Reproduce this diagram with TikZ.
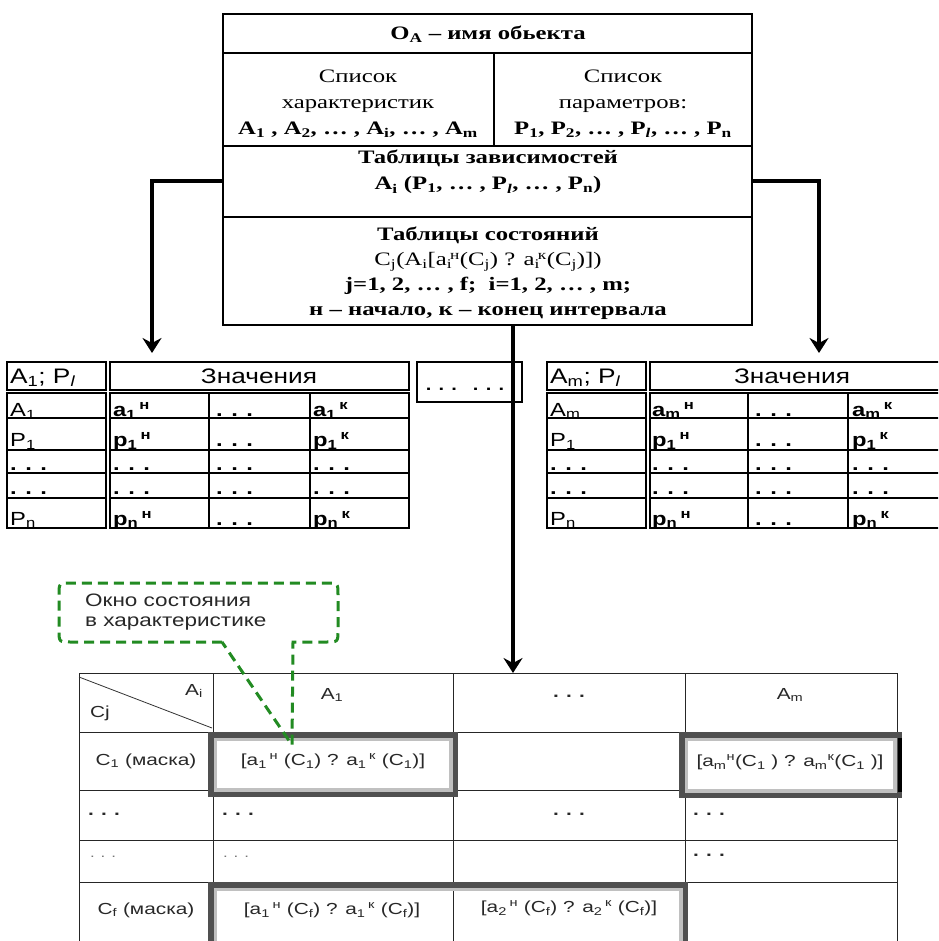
\documentclass[tikz,border=0pt]{standalone}
\usepackage{fontspec}
\setmainfont{Liberation Serif}[FakeStretch=1.3]
\newfontfamily\tabf{Liberation Sans}[FakeStretch=1.25]
\newfontfamily\btf{Liberation Sans}[FakeStretch=1.3]
\usetikzlibrary{arrows.meta}
\definecolor{callg}{RGB}{34,139,34}
\definecolor{frdark}{RGB}{80,80,80}
\definecolor{frlight}{RGB}{192,192,192}
\definecolor{tgray}{RGB}{40,40,40}
\newcommand\sbsp[3]{#1\textsubscript{#2}\kern-0.1em\textsuperscript{#3}}
\newcommand\sbgap[3]{#1\textsubscript{#2}\,\textsuperscript{#3}}
\newcommand\dd{.\hspace{0.45em}.\hspace{0.45em}.}
\newcommand\bdd{\textbf{.\hspace{0.45em}.\hspace{0.45em}.}}
\begin{document}
\begin{tikzpicture}[x=1pt,y=-1pt,
  box/.style={draw, line width=1.2pt, inner sep=0pt, outer sep=0pt, anchor=north west},
  rule/.style={line width=1.2pt},
  tt/.style={font=\fontsize{19}{26}\selectfont, align=center, inner sep=0pt},
  arr/.style={line width=3.2pt, -{Stealth[length=15pt,width=19pt,inset=5pt]}},
  tbh/.style={font=\tabf\fontsize{21}{24}\selectfont, inner sep=0pt, anchor=base west},
  tbc/.style={font=\tabf\fontsize{19}{21}\selectfont, inner sep=0pt, anchor=base west},
  tbo/.style={line width=1.8pt},
  tbi/.style={line width=1.2pt},
  bt/.style={font=\btf\fontsize{16}{18}\selectfont, text=tgray, inner sep=0pt},
  bl/.style={line width=1pt, draw=black!85},
  frmo/.style={line width=5.5pt, draw=frdark},
  frmi/.style={line width=3.5pt, draw=frlight},
  callout/.style={draw=callg, line width=3pt, dash pattern=on 10pt off 6pt},
  ct/.style={font=\tabf\fontsize{18}{20}\selectfont, text=tgray, inner sep=0pt, anchor=base west}
]
\clip (0,0) rectangle (938,941);
\fill[white] (0,0) rectangle (938,941);

% ---------- top object box ----------
\node[box, minimum width=529pt, minimum height=311pt] (obj) at (223,14) {};
\draw[rule] (223,53) -- (752,53);
\draw[rule] (223,146) -- (752,146);
\draw[rule] (223,217) -- (752,217);
\draw[rule] (494,53) -- (494,146);
\node[tt] (title) at (488,34) {\textbf{O\textsubscript{A} – имя обьекта}};
\node[tt] (chars) at (358,104) {Список\\характеристик\\\textbf{A\textsubscript{1} , A\textsubscript{2}, … , A\textsubscript{i}, … , A\textsubscript{m}}};
\node[tt] (params) at (623,104) {Список\\параметров:\\\textbf{P\textsubscript{1}, P\textsubscript{2}, … , P\textsubscript{\textit{l}}, … , P\textsubscript{n}}};
\node[tt] (dep) at (488,172) {\textbf{Таблицы зависимостей}\\\textbf{A\textsubscript{i} (P\textsubscript{1}, … , P\textsubscript{\textit{l}}, … , P\textsubscript{n})}};
\node[tt, font=\fontsize{19}{25}\selectfont] (state) at (488,273) {\textbf{Таблицы состояний}\\C\textsubscript{j}(A\textsubscript{i}[\sbsp{a}{i}{н}(C\textsubscript{j}) ? \sbsp{a}{i}{к}(C\textsubscript{j})])\\\textbf{j=1, 2, … , f;\ \ i=1, 2, … , m;}\\\textbf{н – начало, к – конец интервала}};

% ---------- left table ----------
\node[box, line width=1.8pt, minimum width=99pt, minimum height=28pt] (lh1) at (7,362) {};
\node[box, line width=1.8pt, minimum width=299pt, minimum height=28pt] (lh2) at (110,362) {};
\draw[tbo] (7,393) rectangle (106,528);
\draw[tbo] (110,393) rectangle (409,528);
\foreach \yy in {418,450,473,498} {\draw[tbi] (7,\yy) -- (106,\yy); \draw[tbi] (110,\yy) -- (409,\yy);}
\draw[tbi] (209,393) -- (209,528);
\draw[tbi] (310,393) -- (310,528);
\node[tbh] (lh1t) at (10,383) {A\textsubscript{1}; P\textsubscript{\textit{l}}};
\node[tbh, anchor=base] (lh2t) at (259,383) {Значения};
\foreach \yy/\ca/\cb/\cc/\cd [count=\r] in {
  416/{A\textsubscript{1}}/{\textbf{\sbgap{a}{1}{н}}}/{\bdd}/{\textbf{\sbgap{a}{1}{к}}},
  446/{P\textsubscript{1}}/{\textbf{\sbgap{p}{1}{н}}}/{\bdd}/{\textbf{\sbgap{p}{1}{к}}},
  470/{\bdd}/{\bdd}/{\bdd}/{\bdd},
  494/{\bdd}/{\bdd}/{\bdd}/{\bdd},
  525/{P\textsubscript{n}}/{\textbf{\sbgap{p}{n}{н}}}/{\bdd}/{\textbf{\sbgap{p}{n}{к}}}} {
  \node[tbc] (L\r a) at (10,\yy) {\ca};
  \node[tbc] (L\r b) at (113,\yy) {\cb};
  \node[tbc] (L\r c) at (216,\yy) {\cc};
  \node[tbc] (L\r d) at (313,\yy) {\cd};
}

% ---------- right table ----------
\node[box, line width=1.8pt, minimum width=99pt, minimum height=28pt] (rh1) at (547,362) {};
\node[box, line width=1.8pt, minimum width=290pt, minimum height=28pt] (rh2) at (650,362) {};
\draw[tbo] (547,393) rectangle (646,528);
\draw[tbo] (650,393) rectangle (940,528);
\foreach \yy in {418,450,473,498} {\draw[tbi] (547,\yy) -- (646,\yy); \draw[tbi] (650,\yy) -- (940,\yy);}
\draw[tbi] (748,393) -- (748,528);
\draw[tbi] (848,393) -- (848,528);
\node[tbh] (rh1t) at (550,383) {A\textsubscript{m}; P\textsubscript{\textit{l}}};
\node[tbh, anchor=base] (rh2t) at (792,383) {Значения};
\foreach \yy/\ca/\cb/\cc/\cd [count=\r] in {
  416/{A\textsubscript{m}}/{\textbf{\sbgap{a}{m}{н}}}/{\bdd}/{\textbf{\sbgap{a}{m}{к}}},
  446/{P\textsubscript{1}}/{\textbf{\sbgap{p}{1}{н}}}/{\bdd}/{\textbf{\sbgap{p}{1}{к}}},
  470/{\bdd}/{\bdd}/{\bdd}/{\bdd},
  494/{\bdd}/{\bdd}/{\bdd}/{\bdd},
  525/{P\textsubscript{n}}/{\textbf{\sbgap{p}{n}{н}}}/{\bdd}/{\textbf{\sbgap{p}{n}{к}}}} {
  \node[tbc] (R\r a) at (550,\yy) {\ca};
  \node[tbc] (R\r b) at (652,\yy) {\cb};
  \node[tbc] (R\r c) at (755,\yy) {\cc};
  \node[tbc] (R\r d) at (852,\yy) {\cd};
}

% ---------- middle dots box ----------
\node[box, line width=1.2pt, minimum width=105pt, minimum height=40pt] (mid) at (417,362) {};
\node[font=\tabf\bfseries\fontsize{16}{18}\selectfont, inner sep=0pt, anchor=base] (midt) at (465,390) {\dd\hspace{1em}\dd};

% ---------- bottom table ----------
\node[box, draw=black!85, line width=1pt, minimum width=818pt, minimum height=280pt] (btab) at (79,673) {};
\foreach \xx in {213,453,685} {\draw[bl] (\xx,673) -- (\xx,960);}
\foreach \yy in {732,790,840,882} {\draw[bl] (79,\yy) -- (897,\yy);}
\draw[line width=0.8pt, draw=black!80] (79,677) -- (212,728);

\draw[frmo] (210.75,734.75) rectangle (455.25,794.25);
\draw[frmi] (215.25,739.25) rectangle (450.75,789.75);
\draw[frmo] (681.75,734.75) rectangle (899.25,795.25);
\draw[frmi] (686.25,739.25) rectangle (894.75,790.75);
\draw[line width=4pt] (900,738) -- (900,792);
\draw[frmo] (210.75,884.75) rectangle (685.25,960);
\draw[frmi] (215.25,889.25) rectangle (680.75,960);

\node[bt] (bAi) at (194,691) {A\textsubscript{i}};
\node[bt] (bCj) at (100,713) {Cj};
\node[bt] (bA1) at (332,695) {A\textsubscript{1}};
\node[bt] (bdh) at (569,696) {\bdd};
\node[bt] (bAm) at (790,695) {A\textsubscript{m}};
\node[bt] (bC1) at (146,761) {C\textsubscript{1} (маска)};
\node[bt] (bw11) at (333,761) {[\sbgap{a}{1}{н} (C\textsubscript{1}) ? \sbgap{a}{1}{к} (C\textsubscript{1})]};
\node[bt] (bwm1) at (790,762) {[a\textsubscript{m}\textsuperscript{н}(C\textsubscript{1} ) ? a\textsubscript{m}\textsuperscript{к}(C\textsubscript{1} )]};
\node[bt, anchor=base west] (b31) at (88,815) {\bdd};
\node[bt, anchor=base west] (b32) at (222,815) {\bdd};
\node[bt, anchor=base] (b33) at (569,815) {\bdd};
\node[bt, anchor=base west] (b34) at (693,815) {\bdd};
\node[bt, anchor=base west, text=black!55, font=\btf\fontsize{13}{15}\selectfont] (b41) at (90,857) {\dd};
\node[bt, anchor=base west, text=black!55, font=\btf\fontsize{13}{15}\selectfont] (b42) at (223,857) {\dd};
\node[bt, anchor=base west] (b44) at (693,856) {\bdd};
\node[bt] (bCf) at (146,910) {C\textsubscript{f} (маска)};
\node[bt] (bwf1) at (332,910) {[\sbgap{a}{1}{н} (C\textsubscript{f}) ? \sbgap{a}{1}{к} (C\textsubscript{f})]};
\node[bt] (bwf2) at (569,908) {[\sbgap{a}{2}{н} (C\textsubscript{f}) ? \sbgap{a}{2}{к} (C\textsubscript{f})]};

% ---------- callout ----------
\draw[callout] (222,642) -- (71,642) .. controls (59,642) .. (59,630) -- (59,595)
  .. controls (59,583) .. (71,583) -- (326,583) .. controls (338,583) .. (338,595)
  -- (338,630) .. controls (338,642) .. (326,642) -- (293,642) -- (292,745) -- cycle;
\node[ct] (call1) at (85,606) {Окно состояния};
\node[ct] (call2) at (85,626) {в характеристике};

% ---------- arrows ----------
\coordinate (yrow) at (0,181);
\coordinate (ltip) at (152,353);
\coordinate (rtip) at (819,353);
\coordinate (mx) at (513,0);
\draw[arr] (obj.west |- yrow) -| (ltip);
\draw[arr] (obj.east |- yrow) -| (rtip);
\draw[arr] (obj.south -| mx) -- (mx |- btab.north);
\end{tikzpicture}
\end{document}
